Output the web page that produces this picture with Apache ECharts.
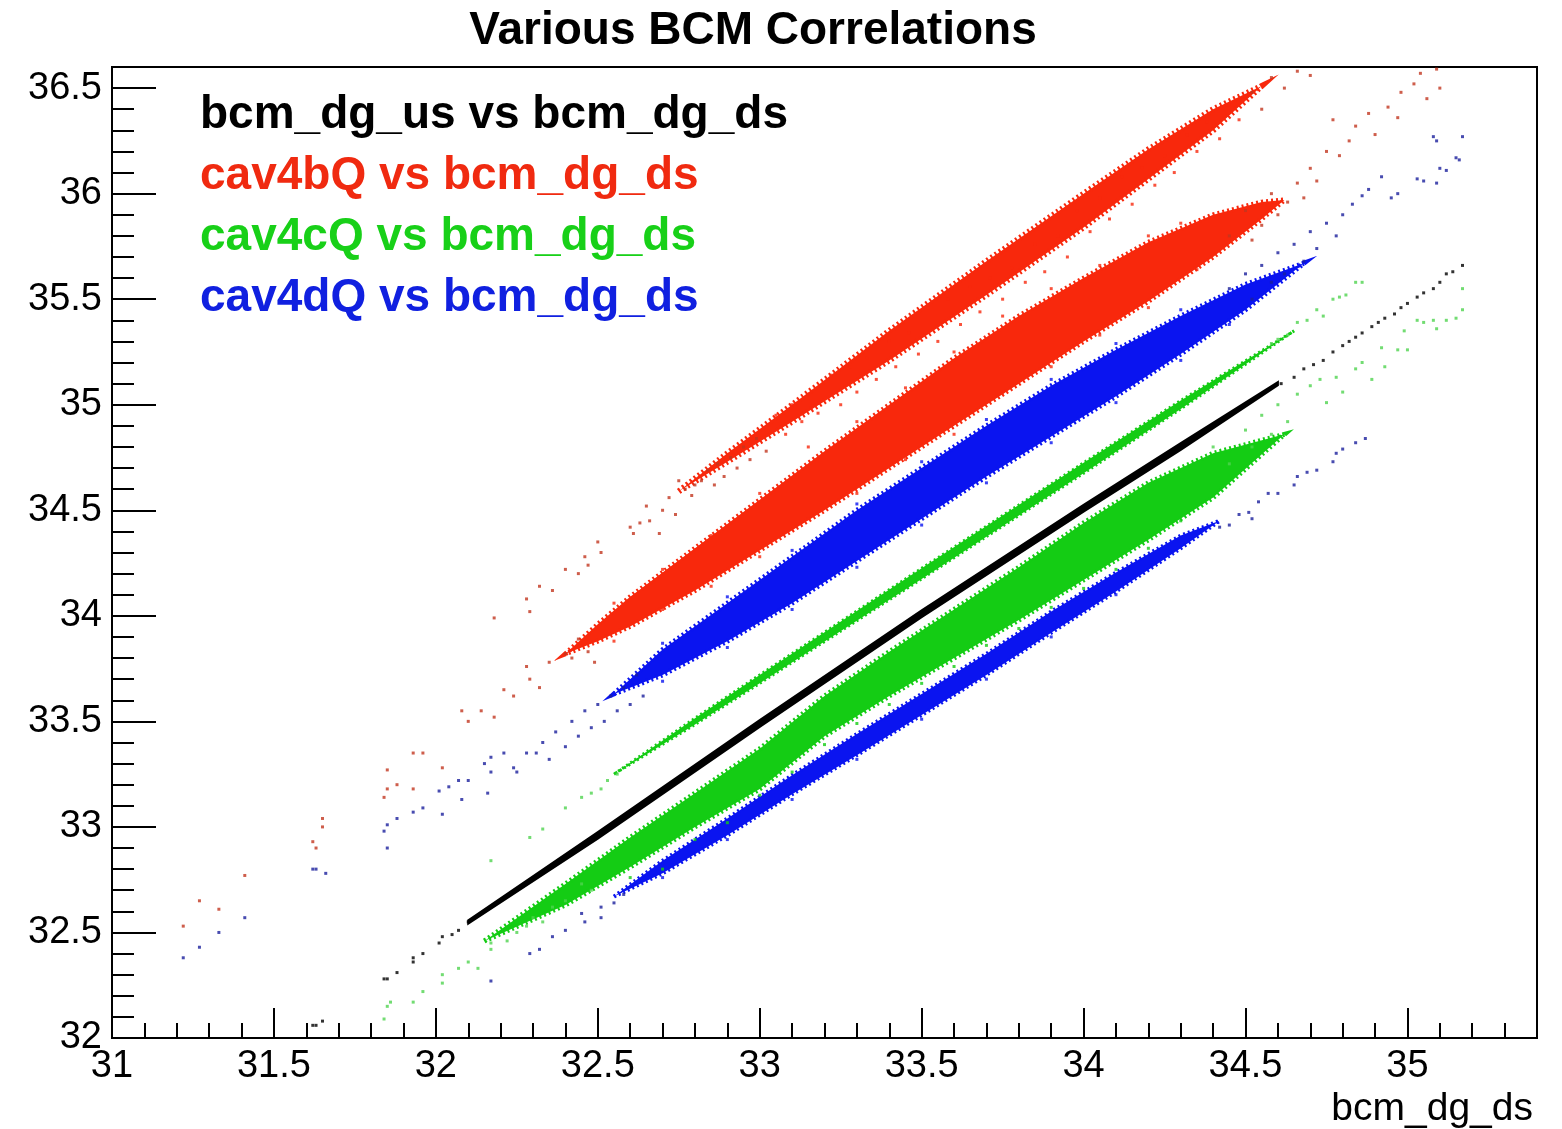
<!DOCTYPE html>
<html><head><meta charset="utf-8">
<script src="https://cdn.jsdelivr.net/npm/echarts@6/dist/echarts.min.js"></script>
<style>html,body{margin:0;padding:0;background:#fff}#c{width:1562px;height:1129px}</style>
</head><body><div id="c"></div>
<script>
const titleText = 'Various BCM Correlations';
const xAxisTitle = 'bcm_dg_ds';
const seriesNames = ['bcm_dg_us vs bcm_dg_ds', 'cav4bQ vs bcm_dg_ds', 'cav4cQ vs bcm_dg_ds', 'cav4dQ vs bcm_dg_ds'];

// ---- dense cores of each band: x, lower edge, upper edge
const blackCoreX  = [32.10, 32.50, 33.00, 33.50, 34.00, 34.30, 34.60];
const blackCoreLo = [32.542, 32.944, 33.474, 33.994, 34.494, 34.786, 35.092];
const blackCoreHi = [32.558, 32.976, 33.506, 34.026, 34.526, 34.818, 35.108];

const redMainX  = [32.40, 32.50, 32.60, 32.80, 33.00, 33.20, 33.40, 33.60, 33.80, 34.00, 34.20, 34.40, 34.55, 34.62];
const redMainLo = [33.82, 33.88, 33.95, 34.12, 34.31, 34.50, 34.70, 34.90, 35.10, 35.30, 35.49, 35.70, 35.88, 35.97];
const redMainHi = [33.82, 33.96, 34.09, 34.32, 34.55, 34.78, 35.00, 35.22, 35.42, 35.60, 35.77, 35.90, 35.96, 35.97];

const redUpX  = [32.75, 32.90, 33.10, 33.40, 33.70, 34.00, 34.20, 34.40, 34.55];
const redUpLo = [34.59, 34.73, 34.92, 35.21, 35.52, 35.84, 36.07, 36.30, 36.51];
const redUpHi = [34.59, 34.77, 35.00, 35.35, 35.68, 36.00, 36.21, 36.40, 36.51];

const greenUpX  = [32.55, 32.80, 33.00, 33.50, 34.00, 34.30, 34.65];
const greenUpLo = [33.25, 33.485, 33.68, 34.175, 34.675, 34.98, 35.35];
const greenUpHi = [33.25, 33.515, 33.72, 34.225, 34.725, 35.02, 35.35];

const greenLowX  = [32.15, 32.40, 32.60, 32.80, 33.00, 33.20, 33.40, 33.60, 33.80, 34.00, 34.20, 34.40, 34.62];
const greenLowLo = [32.46, 32.63, 32.81, 33.00, 33.18, 33.43, 33.62, 33.80, 33.98, 34.17, 34.36, 34.56, 34.86];
const greenLowHi = [32.46, 32.73, 32.95, 33.16, 33.37, 33.62, 33.83, 34.03, 34.23, 34.44, 34.63, 34.77, 34.86];

const blueUpX  = [32.55, 32.70, 32.90, 33.10, 33.30, 33.50, 33.70, 33.90, 34.10, 34.30, 34.50, 34.68];
const blueUpLo = [33.63, 33.72, 33.88, 34.06, 34.26, 34.46, 34.66, 34.85, 35.04, 35.24, 35.45, 35.67];
const blueUpHi = [33.63, 33.84, 34.06, 34.28, 34.50, 34.70, 34.90, 35.09, 35.26, 35.42, 35.57, 35.67];

const blueLowX  = [32.55, 32.70, 32.90, 33.10, 33.30, 33.50, 33.70, 33.90, 34.10, 34.30, 34.42];
const blueLowLo = [32.67, 32.78, 32.96, 33.155, 33.34, 33.53, 33.72, 33.92, 34.115, 34.32, 34.45];
const blueLowHi = [32.67, 32.84, 33.04, 33.245, 33.44, 33.63, 33.82, 34.02, 34.205, 34.38, 34.45];

// ---- individual points (sparse tails and band edges)
const blackPts = [[31.62,32.06],[31.63,32.06],[31.65,32.08],[31.84,32.28],[31.85,32.28],[31.88,32.31],[31.93,32.36],[31.93,32.38],[31.96,32.40],[32.01,32.45],[32.02,32.48],[32.05,32.49],[32.07,32.51],[32.10,32.55],
 [34.61,35.10],[34.65,35.13],[34.68,35.17],[34.71,35.19],[34.74,35.21],[34.77,35.25],[34.80,35.28],[34.82,35.30],[34.84,35.32],[34.86,35.34],[34.89,35.37],[34.91,35.39],[34.93,35.41],[34.96,35.43],[34.98,35.46],[35.00,35.48],[35.03,35.51],[35.05,35.53],[35.08,35.55],[35.10,35.58],[35.12,35.62],[35.14,35.63],[35.17,35.66]];

const redSparse = [[31.22,32.53],[31.27,32.65],[31.33,32.61],[31.41,32.77],[31.62,32.93],[31.63,32.90],[31.65,33.04],[31.65,33.00],[31.84,33.14],[31.85,33.18],[31.85,33.27],[31.88,33.20],[31.93,33.18],[31.93,33.35],[31.96,33.35],[32.02,33.28],
 [32.08,33.55],[32.10,33.50],[32.14,33.55],[32.18,33.52],[32.21,33.65],[32.24,33.62],[32.28,33.76],[32.29,33.70],[32.32,33.66],[32.35,33.78],[32.40,33.82],[32.44,33.89],[32.42,33.80],[32.47,33.83],[32.49,33.78],
 [32.18,33.99],[32.28,34.08],[32.29,34.02],[32.32,34.14],[32.36,34.12],[32.40,34.22],[32.44,34.20],[32.46,34.28],[32.47,34.24],[32.50,34.35],[32.51,34.30],[32.60,34.42],[32.61,34.39],[32.63,34.44],[32.65,34.52],[32.66,34.45],[32.69,34.39],[32.70,34.50],[32.72,34.56],[32.74,34.48],[32.75,34.64],[32.77,34.60],[32.79,34.57],[32.80,34.62],[32.82,34.64],[32.84,34.69],[32.86,34.62],[32.87,34.72],[32.89,34.66],[32.91,34.75],[32.93,34.70],[32.95,34.80],[32.97,34.74],[32.99,34.84],[33.02,34.78],
 [34.45,35.80],[34.50,35.92],[34.52,35.78],[34.55,35.85],[34.58,36.00],[34.60,35.90],[34.63,35.96],[34.66,36.05],[34.68,35.98],[34.70,36.12],[34.72,36.06],[34.75,36.20],[34.77,36.35],[34.79,36.18],[34.82,36.25],[34.84,36.32],[34.88,36.38],[34.90,36.28],[34.94,36.41],[34.97,36.36],[34.98,36.48],[35.02,36.52],[35.06,36.45],[35.09,36.59],[35.10,36.50],[35.04,36.57],
 [34.62,36.50],[34.66,36.58],[34.70,36.56],[34.52,36.48],[34.55,36.40],[34.58,36.55]];
const redEdge = [[33.05,34.95],[33.08,34.86],[33.10,35.00],[33.13,34.92],[33.15,35.05],[33.18,34.96],[33.22,35.14],[33.25,35.00],[33.28,35.18],[33.30,35.06],[33.33,35.22],[33.36,35.12],[33.40,35.30],[33.42,35.18],[33.46,35.34],[33.49,35.24],[33.52,35.46],[33.55,35.30],[33.58,35.50],[33.62,35.38],[33.65,35.56],[33.68,35.44],[33.71,35.60],[33.75,35.50],[33.78,35.65],[33.82,35.58],[33.85,35.76],[33.88,35.63],[33.92,35.80],[33.95,35.70],[33.98,35.92],[34.02,35.82],[34.05,35.98],[34.08,35.88],[34.12,36.08],[34.15,35.95],[34.18,36.12],[34.22,36.04],[34.25,36.18],[34.28,36.10],[34.32,36.28],[34.35,36.20],[34.38,36.34],[34.42,36.26],[34.45,36.42],[34.48,36.35],
 [32.55,34.06],[32.70,34.22],[32.85,34.38],[33.00,34.58],[33.15,34.80],[33.30,34.92],[33.45,35.08],[33.60,35.25],[33.75,35.42],[33.90,35.55],[34.05,35.66],[34.20,35.80],[34.30,35.86],
 [32.55,33.88],[32.70,34.03],[32.85,34.14],[33.00,34.28],[33.15,34.46],[33.30,34.58],[33.45,34.74],[33.60,34.86],[33.75,35.06],[33.90,35.18],[34.05,35.33],[34.20,35.46],[34.35,35.64]];

const greenSparse = [[32.17,32.84],[32.29,32.95],[32.33,32.99],[32.40,33.09],[32.45,33.14],[32.48,33.16],[32.51,33.18],[32.53,33.22],[32.56,33.25],
 [34.58,35.29],[34.60,35.31],[34.63,35.33],[34.66,35.39],[34.69,35.40],[34.72,35.45],[34.74,35.42],[34.77,35.50],[34.79,35.51],[34.81,35.52],[34.84,35.58],[34.86,35.58],
 [31.84,32.09],[31.85,32.15],[31.86,32.17],[31.93,32.17],[31.96,32.22],[32.02,32.30],[32.02,32.26],[32.07,32.33],[32.10,32.36],[32.13,32.33],[32.17,32.45],[32.17,32.42],[32.22,32.46],[32.25,32.50],[32.28,32.53],[32.30,32.57],[32.33,32.55],[32.36,32.62],[32.40,32.65],[32.45,32.73],[32.48,32.70],
 [34.40,34.80],[34.45,34.72],[34.50,34.88],[34.52,34.80],[34.55,34.95],[34.58,34.86],[34.60,35.00],[34.63,34.92],[34.66,35.05],[34.70,35.09],[34.73,35.12],[34.75,35.01],[34.78,35.13],[34.80,35.06],[34.84,35.17],[34.86,35.20],[34.89,35.12],[34.92,35.27],[34.93,35.18],[34.97,35.26],[35.00,35.26],[34.99,35.35],[35.03,35.40],[35.05,35.39],[35.08,35.40],[35.09,35.36],[35.12,35.40],[35.15,35.41],[35.17,35.45],[35.17,35.55]];
const greenEdge = [[32.60,32.76],[32.80,32.94],[33.00,33.15],[33.20,33.39],[33.40,33.58],[33.60,33.76],[33.80,33.94],[34.00,34.13],[34.20,34.32],[32.70,32.80],[32.90,33.02],[33.10,33.26],[33.30,33.49],[33.50,33.68],[33.70,33.86],[33.90,34.04],[34.10,34.22],[34.30,34.45]];

const blueSparse = [[31.22,32.38],[31.27,32.43],[31.33,32.50],[31.41,32.57],[31.62,32.80],[31.63,32.80],[31.66,32.78],[31.84,32.98],[31.85,33.01],[31.85,32.90],[31.88,33.04],[31.93,33.07],[31.96,33.09],[32.01,33.17],[32.02,33.06],[32.04,33.19],[32.08,33.13],[32.07,33.22],[32.10,33.22],[32.15,33.30],[32.16,33.16],[32.17,33.33],[32.17,33.26],[32.21,33.35],[32.24,33.28],[32.25,33.26],[32.28,33.35],[32.31,33.35],
 [32.33,33.40],[32.35,33.32],[32.37,33.45],[32.40,33.38],[32.42,33.50],[32.44,33.43],[32.46,33.55],[32.48,33.47],[32.50,33.58],[32.52,33.50],[32.54,33.62],[32.56,33.55],[32.58,33.66],[32.60,33.58],[32.62,33.72],[32.64,33.62],
 [34.45,35.55],[34.50,35.62],[34.52,35.50],[34.55,35.66],[34.58,35.58],[34.60,35.72],[34.62,35.62],[34.65,35.76],[34.68,35.68],[34.70,35.82],[34.72,35.74],[34.75,35.86],[34.78,35.80],[34.80,35.90],[34.83,35.95],[34.86,35.99],[34.88,36.02],[34.92,36.08],[34.95,35.98],[34.97,36.00],[35.03,36.07],[35.05,36.06],[35.08,36.27],[35.09,36.05],[35.10,36.12],[35.12,36.11],[35.15,36.17],[35.16,36.16],[35.17,36.27],[35.09,36.25],
 [32.17,32.27],[32.29,32.40],[32.32,32.42],[32.36,32.48],[32.40,32.51],[32.45,32.59],[32.46,32.55],[32.51,32.62],[32.51,32.57],[32.55,32.64],[32.58,32.68],
 [34.42,34.42],[34.45,34.43],[34.48,34.48],[34.51,34.49],[34.52,34.46],[34.54,34.54],[34.57,34.58],[34.60,34.58],[34.65,34.62],[34.66,34.66],[34.69,34.68],[34.72,34.69],[34.77,34.73],[34.78,34.77],[34.80,34.79],[34.84,34.82],[34.87,34.84]];
const blueEdge = [[32.70,33.87],[32.90,34.09],[33.10,34.31],[33.30,34.53],[33.50,34.73],[33.70,34.93],[33.90,35.12],[34.10,35.29],[34.30,35.45],
 [32.70,33.69],[32.90,33.85],[33.10,34.03],[33.30,34.23],[33.50,34.43],[33.70,34.63],[33.90,34.82],[34.10,35.01],[34.30,35.21],[34.45,35.38],
 [32.70,32.76],[32.90,32.94],[33.10,33.13],[33.30,33.32],[33.50,33.51],[33.70,33.70],[33.90,33.90],[34.10,34.10],[34.25,34.28]];

const COL = {black:'#000000', red:'#f8280c', redDark:'#c2361f', green:'#14cc14', greenLight:'#4fd34f', blue:'#0a14f0', blueDark:'#1a1f9c'};
const FONT = 'Liberation Sans';

function bandSeries(name, xs, lo, hi, color, fringe) {
  return {
    type: 'custom', name: name, coordinateSystem: 'cartesian2d', xAxisIndex: 0, yAxisIndex: 0,
    data: xs.map((x, i) => [x, lo[i], hi[i]]),
    encode: {x: 0, y: [1, 2]},
    silent: true, z: 2,
    renderItem: function (params, api) {
      if (params.dataIndex !== 0) return null;
      const pts = [];
      for (let i = 0; i < xs.length; i++) pts.push(api.coord([xs[i], hi[i]]));
      for (let i = xs.length - 1; i >= 0; i--) pts.push(api.coord([xs[i], lo[i]]));
      return {type: 'polygon', shape: {points: pts},
        style: {fill: color, stroke: color, lineWidth: fringe, lineDash: fringe > 2 ? [2, 3] : null}};
    }
  };
}
function ptsSeries(name, data, color) {
  return {type: 'scatter', name: name, data: data, symbol: 'rect', symbolSize: 3,
    itemStyle: {color: color}, silent: true, z: 3, xAxisIndex: 0, yAxisIndex: 0};
}

const chart = echarts.init(document.getElementById('c'), null, {renderer: 'canvas'});
const axisLbl = {color: '#000', fontSize: 38, fontFamily: FONT};
chart.setOption({
  animation: false,
  backgroundColor: '#fff',
  title: {text: titleText, left: 748, textAlign: 'center', top: 3,
    textStyle: {fontSize: 46, fontWeight: 'bold', fontFamily: FONT, color: '#000'}},
  legend: {orient: 'vertical', left: 190, top: 87, icon: 'none', itemWidth: 0, itemHeight: 0, itemGap: 15,
    selectedMode: false,
    textStyle: {fontSize: 46, fontWeight: 'bold', fontFamily: FONT},
    data: [
      {name: seriesNames[0], textStyle: {color: '#000000'}},
      {name: seriesNames[1], textStyle: {color: '#f02a10'}},
      {name: seriesNames[2], textStyle: {color: '#18d018'}},
      {name: seriesNames[3], textStyle: {color: '#1020e0'}}
    ]},
  grid: {left: 112, top: 67, right: 25, bottom: 91, show: true, borderColor: '#000', borderWidth: 2, backgroundColor: 'transparent'},
  xAxis: [
    {type: 'value', min: 31, max: 35.4, interval: 0.5, position: 'bottom',
      name: xAxisTitle, nameLocation: 'end', nameGap: -4,
      nameTextStyle: {align: 'right', verticalAlign: 'top', fontSize: 39, fontFamily: FONT, color: '#000', padding: [52, 0, 0, 0]},
      axisLine: {show: true, lineStyle: {color: '#000', width: 2}},
      axisTick: {show: true, inside: true, length: 30, lineStyle: {color: '#000', width: 2}},
      axisLabel: Object.assign({margin: 10, showMaxLabel: false}, axisLbl),
      splitLine: {show: false}},
    {type: 'value', min: 31, max: 35.4, interval: 0.1, position: 'bottom',
      axisLine: {show: false}, axisLabel: {show: false}, splitLine: {show: false},
      axisTick: {show: true, inside: true, length: 15, lineStyle: {color: '#000', width: 2}}}
  ],
  yAxis: [
    {type: 'value', min: 32, max: 36.6, interval: 0.5, position: 'left',
      axisLine: {show: true, lineStyle: {color: '#000', width: 2}},
      axisTick: {show: true, inside: true, length: 44, lineStyle: {color: '#000', width: 2}},
      axisLabel: Object.assign({margin: 10, showMaxLabel: false}, axisLbl),
      splitLine: {show: false}},
    {type: 'value', min: 32, max: 36.6, interval: 0.1, position: 'left',
      axisLine: {show: false}, axisLabel: {show: false}, splitLine: {show: false},
      axisTick: {show: true, inside: true, length: 22, lineStyle: {color: '#000', width: 2}}}
  ],
  series: [
    bandSeries(seriesNames[0], blackCoreX, blackCoreLo, blackCoreHi, COL.black, 2),
    bandSeries(seriesNames[1], redMainX, redMainLo, redMainHi, COL.red, 5),
    bandSeries(seriesNames[1], redUpX, redUpLo, redUpHi, COL.red, 6),
    bandSeries(seriesNames[2], greenUpX, greenUpLo, greenUpHi, COL.green, 3),
    bandSeries(seriesNames[2], greenLowX, greenLowLo, greenLowHi, COL.green, 5),
    bandSeries(seriesNames[3], blueUpX, blueUpLo, blueUpHi, COL.blue, 5),
    bandSeries(seriesNames[3], blueLowX, blueLowLo, blueLowHi, COL.blue, 4),
    ptsSeries(seriesNames[0], blackPts, COL.black),
    ptsSeries(seriesNames[1], redSparse, COL.redDark),
    ptsSeries(seriesNames[1], redEdge, COL.red),
    ptsSeries(seriesNames[2], greenSparse, COL.greenLight),
    ptsSeries(seriesNames[2], greenEdge, COL.green),
    ptsSeries(seriesNames[3], blueSparse, COL.blueDark),
    ptsSeries(seriesNames[3], blueEdge, COL.blue)
  ]
});
</script></body></html>
